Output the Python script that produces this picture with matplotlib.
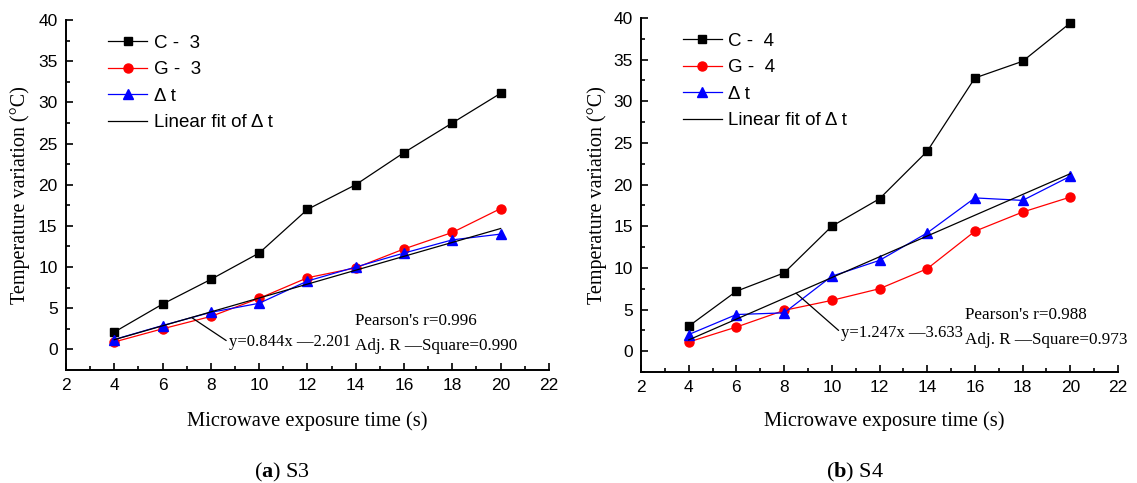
import matplotlib.pyplot as plt
from matplotlib.ticker import MultipleLocator

SANS = 'Liberation Sans'
SERIF = 'Liberation Serif'
plt.rcParams['mathtext.fontset'] = 'custom'
plt.rcParams['mathtext.rm'] = SERIF
plt.rcParams['mathtext.bf'] = SERIF + ':bold'

# 微波加热时间 (s)
times = [4, 6, 8, 10, 12, 14, 16, 18, 20]

# S3
c3 = [2.1, 5.5, 8.5, 11.7, 17.0, 20.0, 23.9, 27.5, 31.1]
g3 = [0.9, 2.5, 4.0, 6.2, 8.7, 9.9, 12.2, 14.2, 17.1]
dt3 = [1.2, 2.9, 4.5, 5.6, 8.3, 10.0, 11.7, 13.3, 14.0]
fit3 = (0.844, -2.201)
stats3 = (0.996, 0.990)

# S4
c4 = [3.0, 7.2, 9.4, 15.0, 18.3, 24.0, 32.8, 34.8, 39.4]
g4 = [1.1, 2.9, 4.9, 6.1, 7.5, 9.9, 14.4, 16.7, 18.5]
dt4 = [2.0, 4.4, 4.6, 9.0, 10.9, 14.2, 18.4, 18.1, 21.0]
fit4 = (1.247, -3.633)
stats4 = (0.988, 0.973)


def draw_panel(ax, c, g, dt, fit, stats, tag, arrow_x, eq_xy, stat_xy, xlab_xy, ylab_x):
    k, b = fit
    ax.plot(times, c, color='black', marker='s', ms=6, lw=0.9, label='C -  ' + tag)
    ax.plot(times, g, color='red', marker='o', ms=6.5, lw=0.9, label='G -  ' + tag)
    ax.plot(times, dt, color='blue', marker='^', ms=7, lw=0.9, label='Δ t')
    fx = [times[0], times[-1]]
    ax.plot(fx, [k * x + b for x in fx], color='black', lw=0.9, label='Linear fit of Δ t')

    ax.set_xlim(2, 22)
    ax.set_ylim(-2.5, 40)
    ax.xaxis.set_major_locator(MultipleLocator(2))
    ax.xaxis.set_minor_locator(MultipleLocator(1))
    ax.set_yticks(range(0, 45, 5))
    ax.yaxis.set_minor_locator(MultipleLocator(2.5))
    ax.spines['top'].set_visible(False)
    ax.spines['right'].set_visible(False)
    for s in ('left', 'bottom'):
        ax.spines[s].set_linewidth(1.4)
    ax.tick_params(which='both', direction='in', width=1.2, labelsize=12.5, pad=6)
    ax.tick_params(which='major', length=5)
    ax.tick_params(which='minor', length=3)
    for lab in ax.get_xticklabels() + ax.get_yticklabels():
        lab.set_family(SANS)

    ax.set_xlabel('Microwave exposure time (s)', family=SERIF, fontsize=14.8, va='center')
    ax.set_ylabel('Temperature variation (°C)', family=SERIF, fontsize=14.5, va='center')
    ax.xaxis.set_label_coords(*xlab_xy)
    ax.yaxis.set_label_coords(ylab_x, 0.5)

    # 拟合方程与统计量
    ex, ey = eq_xy
    ax.annotate('y=%.3fx —%.3f' % (k, -b), xy=(arrow_x, k * arrow_x + b), xytext=(ex, ey),
                family=SERIF, fontsize=12, va='center', ha='left',
                arrowprops=dict(arrowstyle='-', color='black', lw=0.9, shrinkA=0, shrinkB=0,
                                relpos=(0, 0.5)))
    sx, sy = stat_xy
    ax.text(sx, sy, "Pearson's r=%.3f" % stats[0], family=SERIF, fontsize=12.3, va='center')
    ax.text(sx, sy - 3.0, 'Adj. R —Square=%.3f' % stats[1], family=SERIF, fontsize=12.3, va='center')

    ax.legend(loc='upper left', bbox_to_anchor=(0.087, 0.958), frameon=False,
              borderpad=0, borderaxespad=0,
              handlelength=2.1, handletextpad=0.35, labelspacing=0.5,
              prop={'family': SANS, 'size': 13.5})


fig = plt.figure(figsize=(11.37, 4.83), dpi=100)
ax1 = fig.add_axes([0.058, 0.234, 0.4248, 0.7246])
ax2 = fig.add_axes([0.5638, 0.2298, 0.4195, 0.733])

draw_panel(ax1, c3, g3, dt3, fit3, stats3, '3', 7.2, (8.75, 0.85), (13.95, 3.4),
           (0.499, -0.146), -0.095)
draw_panel(ax2, c4, g4, dt4, fit4, stats4, '4', 8.5, (10.4, 2.2), (15.6, 4.3),
           (0.51, -0.139), -0.092)

fig.text(0.248, 0.022, r'($\mathbf{a}$) S3', family=SERIF, fontsize=16, ha='center', va='center')
fig.text(0.752, 0.022, r'($\mathbf{b}$) S4', family=SERIF, fontsize=16, ha='center', va='center')

fig.savefig('out.png', dpi=100)
